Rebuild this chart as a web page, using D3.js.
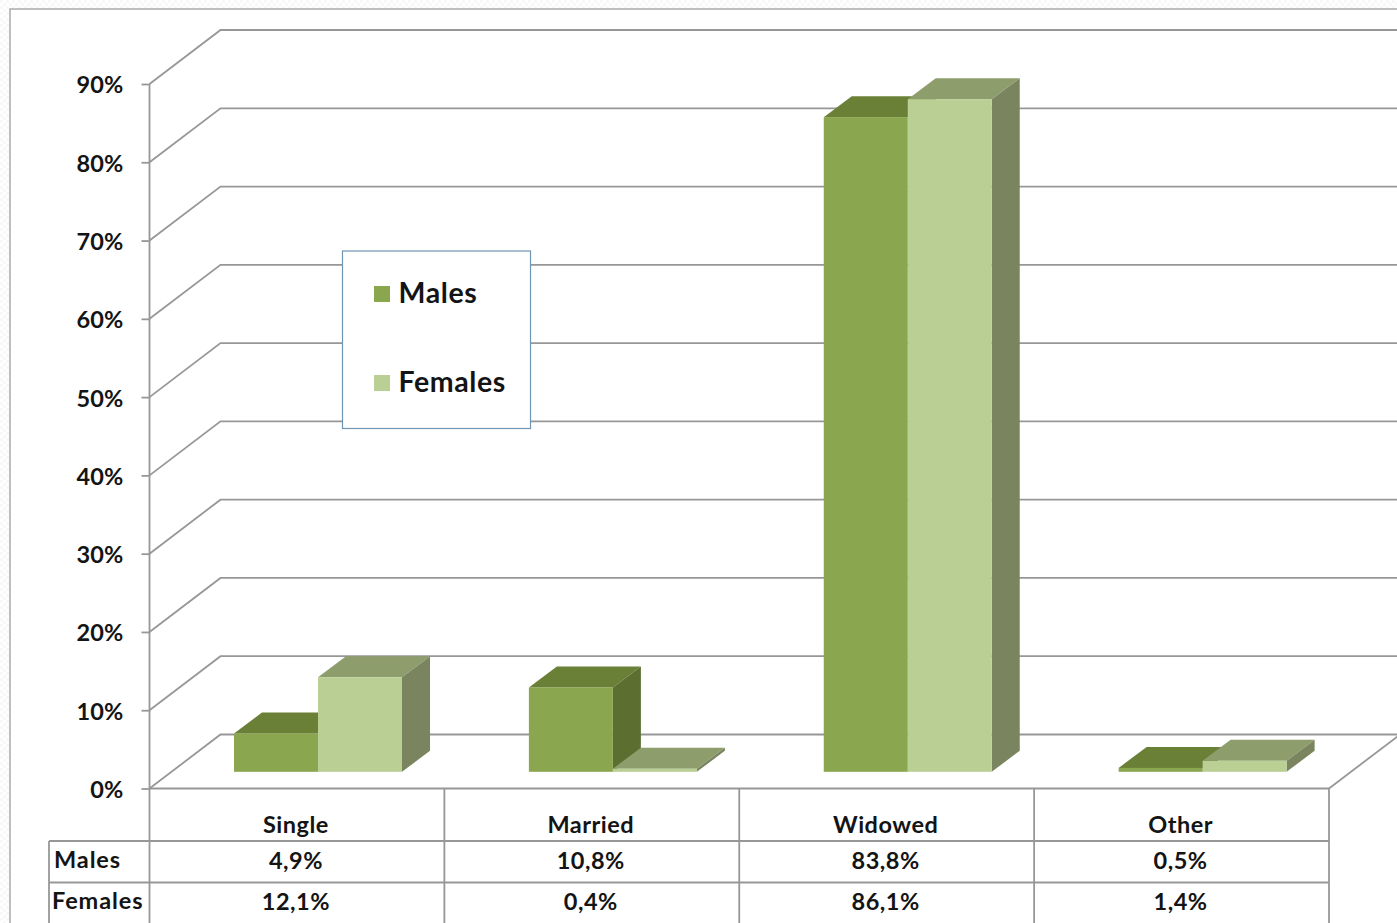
<!DOCTYPE html>
<html>
<head>
<meta charset="utf-8">
<script src="https://cdn.jsdelivr.net/npm/d3@7/dist/d3.min.js"></script>
<style>
  html, body { margin: 0; padding: 0; background: #fff; overflow: hidden; }
  svg { display: block; }
  text { font-family: Lato, "Open Sans", sans-serif; fill: #141414; font-weight: 700; }
</style>
</head>
<body>
<svg id="chart" width="1397" height="923"></svg>
<script>
// Marital status by sex, percentages
const categories = ["Single", "Married", "Widowed", "Other"];
const males = [4.9, 10.8, 83.8, 0.5];
const females = [12.1, 0.4, 86.1, 1.4];
const seriesNames = ["Males", "Females"];
const tickValues = [0, 10, 20, 30, 40, 50, 60, 70, 80, 90];
const decimalComma = v => v.toFixed(1).replace(".", ",") + "%";

const frontLeft = 149.5, frontRight = 1329, floorY = 788.5, topY = 84;
const wallDx = 71, wallDy = 54;   // oblique offset from front edge to back wall
const barInset = 16.7, barDx = 28, barDy = 21; // bars sit on the floor, with this depth

const svg = d3.select("#chart");
const x = d3.scaleBand().domain(categories).range([frontLeft, frontRight]);
const inner = d3.scaleBand().domain(seriesNames).range([84.5, 252.5]);
const y = d3.scaleLinear().domain([0, 90]).range([floorY, topY]);

const gridStroke = "#979797";
const gridWidth = 1.8;

// Paper texture outside of the slide frame
const defs = svg.append("defs");
const pat = defs.append("pattern").attr("id", "paper")
  .attr("width", 6).attr("height", 6).attr("patternUnits", "userSpaceOnUse");
pat.append("rect").attr("width", 6).attr("height", 6).attr("fill", "#fff");
pat.append("rect").attr("width", 3).attr("height", 3).attr("fill", "#f8f8f8");
pat.append("rect").attr("x", 3).attr("y", 3).attr("width", 3).attr("height", 3).attr("fill", "#f8f8f8");
svg.append("rect").attr("width", 1397).attr("height", 923).attr("fill", "url(#paper)");
svg.append("rect").attr("x", 10).attr("y", 9).attr("width", 1500).attr("height", 1000)
  .attr("fill", "#fff").attr("stroke", "#ababab").attr("stroke-width", 1.5);

// Back wall gridlines and their oblique returns to the axis
const grid = svg.append("g").attr("fill", "none").attr("stroke", gridStroke).attr("stroke-width", gridWidth);
grid.selectAll("path.wall").data(tickValues).join("path").attr("class", "wall")
  .attr("d", d => `M${frontLeft},${y(d)}L${frontLeft + wallDx},${y(d) - wallDy}L${frontRight + wallDx},${y(d) - wallDy}`);
grid.append("path")
  .attr("d", `M${frontRight},${floorY}L${frontRight + wallDx},${floorY - wallDy}`);

// Value axis
const axis = svg.append("g").attr("transform", `translate(${frontLeft},0)`)
  .call(d3.axisLeft(y).tickValues(tickValues).tickFormat(d => d + "%").tickSize(8).tickPadding(18));
axis.selectAll("path,line").attr("stroke", gridStroke).attr("stroke-width", gridWidth);
axis.select(".domain").attr("d", `M0,${topY}V${floorY}`);
axis.selectAll("text").style("font-size", "23.5px").style("letter-spacing", "0.2px").attr("dy", "0.38em");

// Front floor edge and data table rules
const tableRows = [841, 882.5];
const tableBottom = 930, tableLeft = 49;
const rules = svg.append("g").attr("stroke", gridStroke).attr("stroke-width", gridWidth);
rules.append("line").attr("x1", frontLeft).attr("x2", frontRight).attr("y1", floorY).attr("y2", floorY);
rules.selectAll("line.row").data(tableRows).join("line").attr("class", "row")
  .attr("x1", tableLeft).attr("x2", frontRight).attr("y1", d => d).attr("y2", d => d);
rules.selectAll("line.col").data([...categories.map(c => x(c)), frontRight]).join("line").attr("class", "col")
  .attr("x1", d => d).attr("x2", d => d).attr("y1", floorY).attr("y2", tableBottom);
rules.append("line").attr("x1", tableLeft).attr("x2", tableLeft).attr("y1", tableRows[0]).attr("y2", tableBottom);

// Oblique boxes, one per value
const palette = {
  Males:   { front: "#8aa64e", top: "#6a8036", side: "#5c6e30" },
  Females: { front: "#b9cf94", top: "#8d9d6c", side: "#7a8560" }
};
const barBase = floorY - barInset;
const barScale = v => barBase - (floorY - y(v)) * 0.998;
const barData = seriesNames.flatMap((s, si) => categories.map((c, i) => ({
  series: s, cat: c, value: (si === 0 ? males : females)[i]
})));
const bars = svg.append("g").selectAll("g").data(barData).join("g");
const x0 = d => x(d.cat) + inner(d.series);
const x1 = d => x0(d) + inner.bandwidth();
bars.append("path").attr("fill", d => palette[d.series].top)
  .attr("d", d => `M${x0(d)},${barScale(d.value)}l${barDx},${-barDy}H${x1(d) + barDx}L${x1(d)},${barScale(d.value)}Z`);
bars.append("path").attr("fill", d => palette[d.series].side)
  .attr("d", d => `M${x1(d)},${barScale(d.value)}l${barDx},${-barDy}V${barBase - barDy}L${x1(d)},${barBase}Z`);
bars.append("rect").attr("fill", d => palette[d.series].front)
  .attr("x", x0).attr("width", inner.bandwidth())
  .attr("y", d => barScale(d.value)).attr("height", d => barBase - barScale(d.value));

// Data table text
const cx = c => x(c) + x.bandwidth() / 2 - 1;
const tableText = svg.append("g").style("font-size", "23.5px").style("letter-spacing", "0.5px").attr("text-anchor", "middle");
tableText.selectAll("text.cat").data(categories).join("text").attr("class", "cat")
  .attr("x", cx).attr("y", 832.5).text(d => d);
tableText.selectAll("text.m").data(males).join("text").attr("class", "m")
  .attr("x", (d, i) => cx(categories[i])).attr("y", 868.5).text(decimalComma);
tableText.selectAll("text.f").data(females).join("text").attr("class", "f")
  .attr("x", (d, i) => cx(categories[i])).attr("y", 909.5).text(decimalComma);
svg.append("g").style("font-size", "23.5px").style("letter-spacing", "0.9px").selectAll("text").data(seriesNames).join("text")
  .attr("x", (d, i) => i === 0 ? 54 : 52).attr("y", (d, i) => i === 0 ? 867.5 : 908.5).text(d => d);

// Legend
const legend = svg.append("g");
legend.append("rect").attr("x", 342.5).attr("y", 251).attr("width", 188).attr("height", 177.5)
  .attr("fill", "#fff").attr("stroke", "#6f94b5").attr("stroke-width", 1.2);
const items = legend.selectAll("g").data(seriesNames).join("g")
  .attr("transform", (d, i) => `translate(374,${286 + i * 89})`);
items.append("rect").attr("width", 16).attr("height", 16).attr("fill", d => palette[d].front);
items.append("text").attr("x", 24.5).attr("y", 17).style("font-size", "28.5px").style("letter-spacing", "0.6px").text(d => d);
</script>
</body>
</html>
